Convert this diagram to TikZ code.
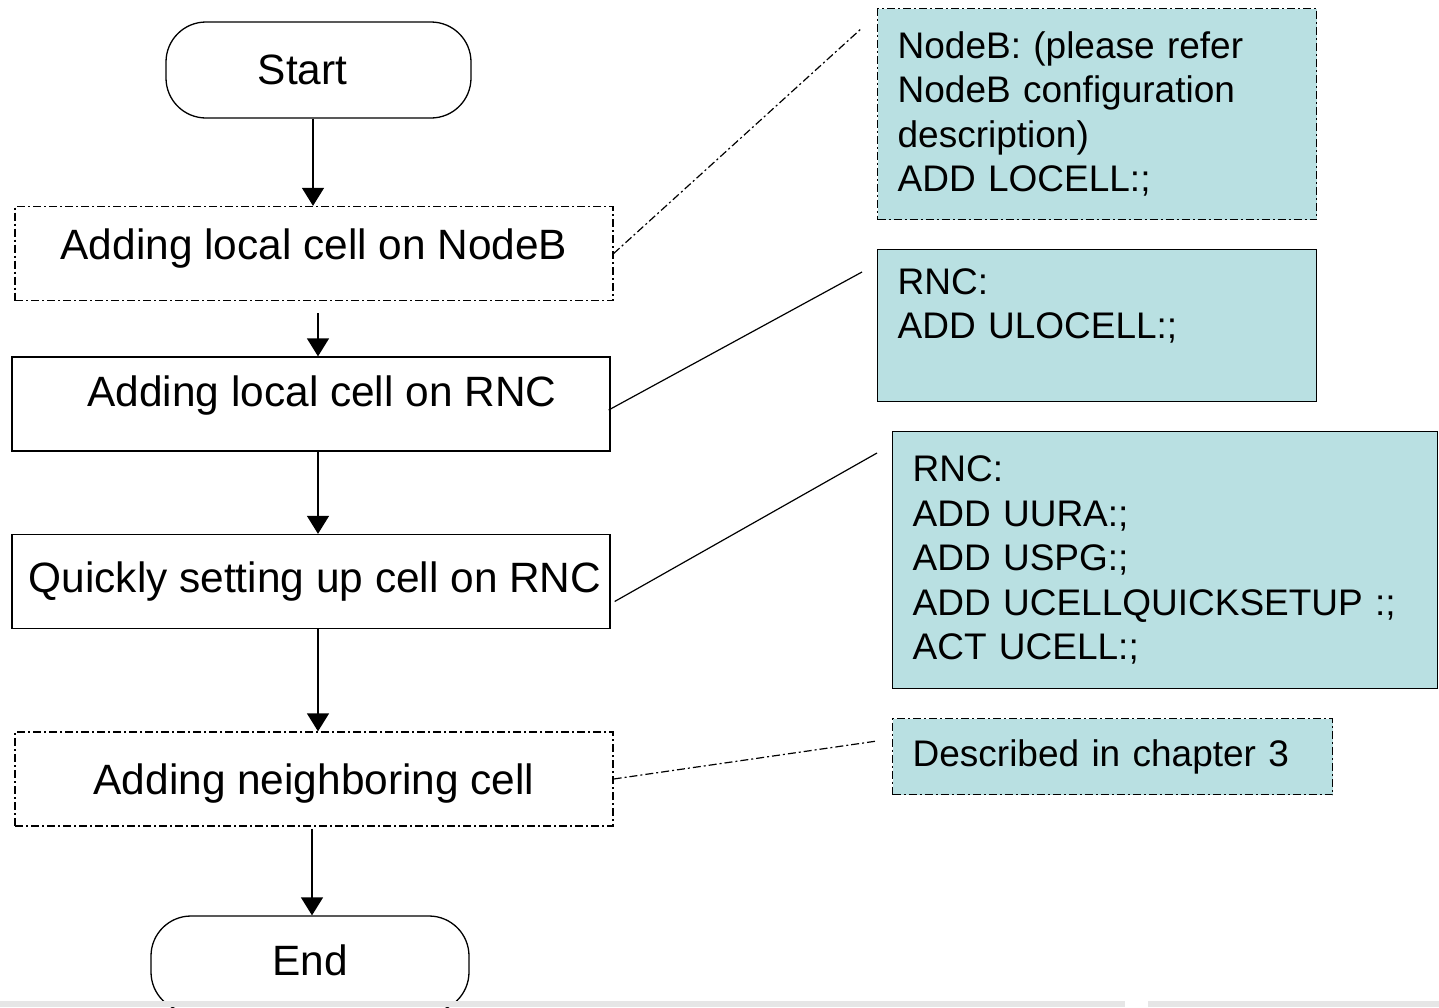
\documentclass[tikz,border=0pt]{standalone}
\usepackage{fontspec}
\setmainfont{Liberation Sans}
\usetikzlibrary{arrows.meta,positioning,calc}
\definecolor{notefill}{HTML}{B9E0E2}
\definecolor{stripgray}{HTML}{E6E6E6}

\begin{document}
\begin{tikzpicture}[
  x=0.5pt, y=-0.5pt,
  >={Triangle[length=9pt,width=11pt]},
  line width=0.65pt,
  bigtext/.style={font=\fontsize{21.2}{25}\selectfont},
  term/.style={
    draw,
    rounded corners=20pt,
    minimum width=152.5pt,
    minimum height=48pt,
    inner sep=0pt,
    bigtext
  },
  procbox/.style={
    draw,
    minimum width=299pt,
    minimum height=47pt,
    inner sep=0pt,
    text height=15.3pt,
    text depth=4.4pt,
    bigtext
  },
  dashdot/.style={dash pattern=on 4pt off 1.5pt on 1pt off 1.5pt},
  note/.style={
    draw,
    fill=notefill,
    anchor=north west,
    align=left,
    inner xsep=10pt,
    inner ysep=0pt,
    font=\fontsize{18.5}{22.25}\selectfont
  },
  flow/.style={->},
  link/.style={line width=0.6pt}
]
\clip (0,0) rectangle (1439,1007);

% --- Flow (left) ---
\node[term] (start) at (318.5,70) {Start\hspace*{16pt}};
\node[procbox, dashdot, text depth=8.9pt] (nodeb) at (314,253.5) {Adding local cell on NodeB};
\node[procbox, text depth=12.4pt] (lrnc) at (311,404) {\hspace*{11pt}Adding local cell on RNC};
\node[procbox] (quick) at (311,581.5) {\hspace*{4pt}Quickly setting up cell on RNC};
\node[procbox, dashdot, text height=20.3pt] (neigh) at (314,779) {Adding neighboring cell};
\node[term, minimum width=159pt, text height=15.3pt, text depth=4pt] (finish) at (310,964) {End};

\draw[flow] ([xshift=-2.75pt]start.south) -- ([xshift=-2.75pt]start.south |- nodeb.north);
\draw[flow] ($(nodeb.south)+(4,12)$) coordinate (a2) -- (a2 |- lrnc.north);
\draw[flow] ($(lrnc.south)+(7,0)$) coordinate (a3) -- (a3 |- quick.north);
\draw[flow] ($(quick.south)+(7,0)$) coordinate (a4) -- (a4 |- neigh.north);
\draw[flow] ($(neigh.south)+(-2,2)$) coordinate (a5) -- (a5 |- finish.north);

% --- Commands (right) ---
\node[note, dashdot, text width=199.5pt, minimum height=105.5pt] (cmdnodeb) at (877,8)
  {NodeB: (please refer\\NodeB configuration\\description)\\ADD LOCELL:;};
\node[note, text width=199.5pt, minimum height=76pt] (cmdlrnc) at (877,249)
  {RNC:\\ADD ULOCELL:;\\\mbox{}};
\node[note, text width=252.5pt, minimum height=128.5pt] (cmdquick) at (892,431)
  {RNC:\\ADD UURA:;\\ADD USPG:;\\ADD UCELLQUICKSETUP :;\\ACT UCELL:;};
\node[note, dashdot, text width=200pt, minimum height=38pt] (cmdneigh) at (892,718)
  {Described in chapter 3};

% callout lines
\coordinate (p1) at (862,28);
\coordinate (p2) at (862,272);
\coordinate (p3) at (877,453);
\coordinate (p4) at (877,741);
\draw[link, dashdot] (nodeb.east) -- (p1);
\draw[link] ($(lrnc.east)+(-2,6)$) -- (p2);
\draw[link] ($(quick.east)+(4,20)$) -- (p3);
\draw[link, dashdot] (neigh.east) -- (p4);

% bottom strip
\fill[stripgray] (0,1001) rectangle (1125,1007);
\fill[stripgray] (1148,1001) rectangle (1439,1007);

\end{tikzpicture}
\end{document}
